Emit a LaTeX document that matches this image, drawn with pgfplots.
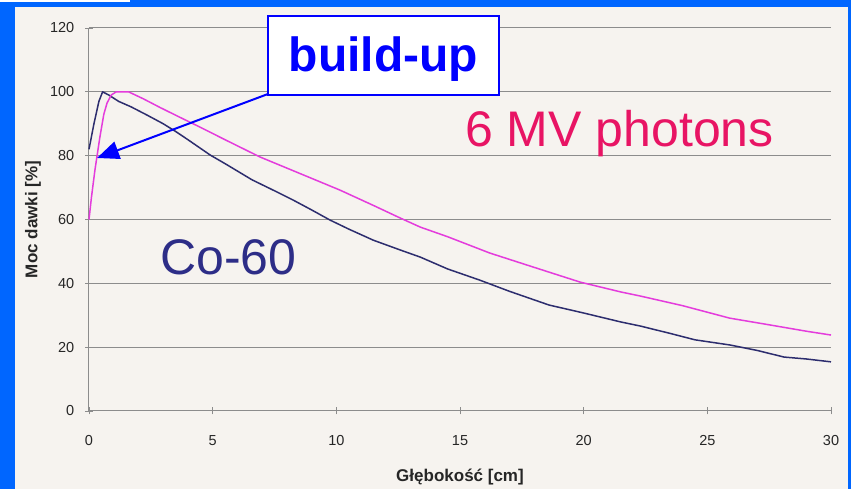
\documentclass[border=0pt]{standalone}
\usepackage{pgfplots}
\pgfplotsset{compat=1.18}
\usepackage{fontspec}
\setmainfont{Liberation Sans}
\usetikzlibrary{arrows.meta}
\definecolor{slideblue}{RGB}{0,102,255}
\definecolor{cream}{RGB}{246,243,239}
\definecolor{coline}{RGB}{45,45,110}
\definecolor{mvline}{RGB}{228,60,220}
\definecolor{cotext}{RGB}{45,45,135}
\definecolor{mvtext}{RGB}{232,20,100}
\definecolor{arrowblue}{RGB}{0,0,255}
\definecolor{gridgray}{RGB}{140,140,140}

\pgfplotstableread{
x y
0 82
0.2 90
0.4 97
0.55 100
0.8 99
1.2 97
1.7 95.3
2.35 92.7
3.0 90
3.5 87.6
4.0 85
4.9 80.2
5.5 77.5
6.6 72.4
7.5 69
8.25 66.1
9.0 63
9.75 59.8
10.5 57
11.5 53.5
12.6 50.4
13.4 48.2
14.5 44.5
15.8 41
17 37.5
18.6 33.2
20 30.7
21.5 27.9
22.3 26.6
23.5 24.3
24.5 22.3
25.9 20.7
27 19
28.1 16.9
29 16.3
30 15.4
}\cosixty

\pgfplotstableread{
x y
0 60
0.1 67
0.24 75.5
0.44 85.8
0.6 93
0.73 96.5
0.9 99
1.1 100
1.6 100
2.2 97.8
2.87 95.1
3.68 92
4.5 88.9
5.5 85
6.91 79.6
8.5 74.5
10.15 69.2
11.5 64.4
12.6 60.4
13.4 57.6
14.5 54.6
16.2 49.5
18 45
19.85 40.4
21.5 37.3
22.3 36
24 33
25.9 29.1
27.5 27
29 25
30 23.8
}\sixmv

\begin{document}
\begin{tikzpicture}[x=1pt,y=1pt]
\useasboundingbox (0,0) rectangle (851,489);
\fill[slideblue] (0,0) rectangle (851,489);
\fill[cream] (15,0) rectangle (848,482);
\fill[white] (0,487) rectangle (130,489);
\begin{axis}[
  at={(89pt,78pt)}, anchor=south west,
  scale only axis, width=742pt, height=383pt,
  xmin=0, xmax=30, ymin=0, ymax=120,
  xtick={0,5,...,30}, ytick={0,20,...,120},
  axis x line=bottom, axis y line=left,
  axis line style={-, draw=gridgray, line width=1pt},
  ymajorgrids, grid style={gridgray, line width=1pt},
  tick align=center, major tick length=7pt,
  tick style={gridgray, line width=0.8pt},
  /pgf/number format/assume math mode=true,
  ticklabel style={font=\fontsize{14.5}{16}\selectfont, text=black!85},
  xticklabel style={anchor=base, inner sep=0pt, yshift=-31pt},
  yticklabel style={anchor=east, inner sep=0pt, xshift=-11pt},
  xlabel={Głębokość [cm]}, ylabel={Moc dawki [\%]},
  label style={font=\bfseries\fontsize{17}{19}\selectfont, text=black!85},
  xlabel style={at={(axis description cs:0.5,0)}, anchor=base, inner sep=0pt, yshift=-71pt},
  ylabel style={at={(axis description cs:-0.0755,0.5)}, anchor=center, inner sep=0pt},
  clip=false,
]
\addplot[coline, line width=1.5pt, line join=round] table[x=x,y=y] {\cosixty};
\addplot[mvline, line width=1.5pt, line join=round] table[x=x,y=y] {\sixmv};
\end{axis}
\node[anchor=base west, text=cotext, font=\fontsize{50}{56}\selectfont, inner sep=0pt] at (160,214) {Co-60};
\node[anchor=base west, text=mvtext, font=\fontsize{50}{56}\selectfont, inner sep=0pt] at (465,342) {6 MV photons};
\draw[arrowblue, line width=2pt, -{Triangle[length=22pt,width=18pt]}] (268,395) -- (97,331);
\draw[arrowblue, line width=1.5pt, fill=white] (268,394) rectangle (499,473);
\node[anchor=base, text=arrowblue, font=\bfseries\fontsize{48}{54}\selectfont, inner sep=0pt] at (383.5,417) {build-up};
\end{tikzpicture}
\end{document}
